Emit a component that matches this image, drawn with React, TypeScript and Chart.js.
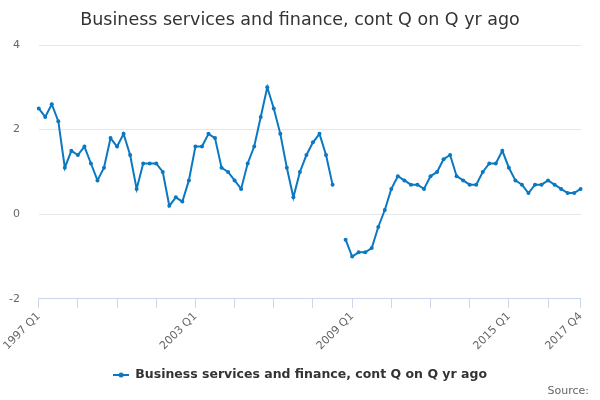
import React, { useEffect, useRef } from 'react';
import Chart from 'chart.js/auto';

const years: number[] = [
  1997, 1998, 1999, 2000, 2001, 2002, 2003, 2004, 2005, 2006, 2007,
  2008, 2009, 2010, 2011, 2012, 2013, 2014, 2015, 2016, 2017,
];
const quarterNames: string[] = ['Q1', 'Q2', 'Q3', 'Q4'];
const categories: string[] = years.flatMap((y) => quarterNames.map((q) => `${y} ${q}`));

// Business services and finance, contribution Q on Q a year ago
const values: (number | null)[] = [
  2.5, 2.3, 2.6, 2.2, 1.1, 1.5, 1.4, 1.6, 1.2, 0.8, 1.1, 1.8, 1.6, 1.9, 1.4, 0.6, 1.2, 1.2, 1.2, 1.0, 0.2, 0.4, 0.3, 0.8,
  1.6, 1.6, 1.9, 1.8, 1.1, 1.0, 0.8, 0.6, 1.2, 1.6, 2.3, 3.0, 2.5, 1.9, 1.1, 0.4, 1.0, 1.4, 1.7, 1.9, 1.4, 0.7, null, -0.6,
  -1.0, -0.9, -0.9, -0.8, -0.3, 0.1, 0.6, 0.9, 0.8, 0.7, 0.7, 0.6, 0.9, 1.0, 1.3, 1.4, 0.9, 0.8, 0.7, 0.7, 1.0, 1.2,
  1.2, 1.5, 1.1, 0.8, 0.7, 0.5, 0.7, 0.7, 0.8, 0.7, 0.6, 0.5, 0.5, 0.6,
];

const labelledTicks: string[] = ['1997 Q1', '2003 Q1', '2009 Q1', '2015 Q1', '2017 Q4'];
const tickEvery = 6;
const yTicks: number[] = [-2, 0, 2, 4];

const seriesName = 'Business services and finance, cont Q on Q yr ago';
const blue = '#0b78c1';

const App: React.FC = () => {
  const chartRef = useRef<HTMLCanvasElement | null>(null);

  useEffect(() => {
    const ctx = chartRef.current;
    if (!ctx) return;

    Chart.defaults.font.family = "'DejaVu Sans', sans-serif";

    // legend symbol: line with a dot
    const sym = document.createElement('canvas');
    sym.width = 16;
    sym.height = 8;
    const sc = sym.getContext('2d');
    if (sc) {
      sc.strokeStyle = blue;
      sc.lineWidth = 2;
      sc.beginPath();
      sc.moveTo(0, 4);
      sc.lineTo(16, 4);
      sc.stroke();
      sc.fillStyle = blue;
      sc.beginPath();
      sc.arc(8, 4, 2.5, 0, Math.PI * 2);
      sc.fill();
    }

    const lastIndex = categories.length - 1;

    const sourcePlugin = {
      id: 'sourceText',
      afterDraw(chart: Chart) {
        const c = chart.ctx;
        c.save();
        c.font = "11px 'DejaVu Sans', sans-serif";
        c.fillStyle = '#666666';
        c.textAlign = 'right';
        c.textBaseline = 'middle';
        c.fillText('Source:', 589, 391);
        c.restore();
      },
    };

    const chart = new Chart(ctx, {
      type: 'line',
      data: {
        labels: categories,
        datasets: [{
          label: seriesName,
          data: values,
          borderColor: blue,
          backgroundColor: blue,
          borderWidth: 2,
          pointRadius: 2,
          pointBackgroundColor: blue,
          pointBorderWidth: 0,
          pointHoverRadius: 2,
          tension: 0,
          spanGaps: false,
        }],
      },
      options: {
        responsive: false,
        animation: false,
        layout: { padding: { top: 0, left: 0, right: 0, bottom: 8.8 } },
        plugins: {
          title: {
            display: true,
            text: seriesName,
            color: '#333333',
            font: { size: 17.5, weight: 'normal' },
            padding: { top: 9.5, bottom: 14.5 },
          },
          legend: {
            position: 'bottom',
            labels: {
              usePointStyle: true,
              pointStyle: sym,
              pointStyleWidth: 16,
              padding: 3.2,
              color: '#333333',
              font: { size: 12.5, weight: 'bold' },
            },
          },
          tooltip: { enabled: false },
        },
        scales: {
          x: {
            type: 'category',
            offset: false,
            border: { display: true, color: '#ccd6eb', width: 1 },
            grid: {
              drawOnChartArea: false,
              drawTicks: true,
              tickLength: 9,
              color: (c: any) => (c.index % tickEvery === 0 || c.index === lastIndex ? '#ccd6eb' : 'transparent'),
            },
            ticks: {
              autoSkip: false,
              minRotation: 45,
              maxRotation: 45,
              padding: 2,
              color: '#666666',
              font: { size: 11 },
              callback: (_v: any, i: number) => (labelledTicks.includes(categories[i]) ? categories[i] : ''),
            },
            afterFit: (s: any) => {
              s.height = 66.6;
              s.paddingLeft = 0;
              s.paddingRight = 19.3;
            },
          },
          y: {
            min: yTicks[0],
            max: yTicks[yTicks.length - 1],
            border: { display: false },
            grid: {
              drawTicks: false,
              color: (c: any) => (c.tick && c.tick.value === yTicks[0] ? 'transparent' : '#e6e6e6'),
            },
            ticks: {
              stepSize: 2,
              padding: 18.7,
              color: '#666666',
              font: { size: 11 },
            },
            afterFit: (s: any) => {
              s.width = 38.7;
              s.paddingTop = 0;
              s.paddingBottom = 0;
            },
          },
        },
      },
      plugins: [sourcePlugin],
    });

    return () => {
      chart.destroy();
    };
  }, []);

  return (
    <div style={{ position: 'fixed', left: 0, top: 0, width: 600, height: 400, background: '#fff' }}>
      <canvas ref={chartRef} width={600} height={400}></canvas>
    </div>
  );
};

export default App;
